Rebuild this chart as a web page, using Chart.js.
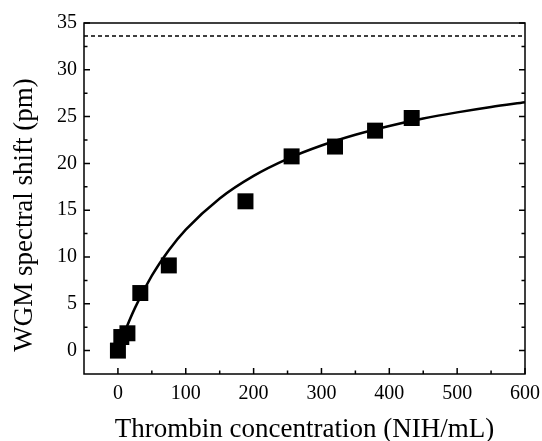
<!DOCTYPE html>
<html>
<head>
<meta charset="utf-8">
<script src="https://cdn.jsdelivr.net/npm/chart.js@4/dist/chart.umd.min.js"></script>
<style>
html, body { margin: 0; padding: 0; background: #fff; }
#wrap { width: 542px; height: 441px; }
</style>
</head>
<body>
<div id="wrap"><canvas id="chart"></canvas></div>
<script>
// punti misurati
const concentrazioni = [0, 5, 14, 33, 75, 188, 256, 320, 379, 433];
const spostamenti = [0, 1.45, 1.85, 6.15, 9.1, 15.95, 20.75, 21.8, 23.5, 24.85];

// curva di fit
const curvaX = [0, 10, 25, 50, 75, 100, 150, 200, 250, 300, 350, 400, 450, 500, 550, 600];
const curvaY = [0, 1.98, 4.54, 8.0, 10.72, 12.92, 16.26, 18.67, 20.49, 21.91, 23.06, 24.0, 24.79, 25.45, 26.03, 26.53];

// linea di saturazione tratteggiata
const saturazioneX = [-50, 600];
const saturazioneY = [33.6, 33.6];

const xTicks = [0, 100, 200, 300, 400, 500, 600];
const yTicks = [0, 5, 10, 15, 20, 25, 30, 35];
const xMinor = [-50, 50, 150, 250, 350, 450, 550];
const yMinor = [-2.5, 2.5, 7.5, 12.5, 17.5, 22.5, 27.5, 32.5];

const FONT = "'Liberation Serif', 'Times New Roman', serif";

const toPoints = (xs, ys) => xs.map((x, i) => ({ x: x, y: ys[i] }));

// cornice, tacche interne e titolo asse y
const cornice = {
  id: 'cornice',
  afterDraw(chart) {
    const c = chart.ctx;
    const a = chart.chartArea;
    const sx = chart.scales.x;
    const sy = chart.scales.y;
    c.save();
    c.strokeStyle = '#000';
    c.lineWidth = 1.5;
    c.strokeRect(a.left, a.top, a.right - a.left, a.bottom - a.top);
    c.beginPath();
    xTicks.forEach(v => {
      const px = sx.getPixelForValue(v);
      c.moveTo(px, a.bottom); c.lineTo(px, a.bottom - 6);
    });
    xMinor.forEach(v => {
      const px = sx.getPixelForValue(v);
      if (px <= a.left + 1) return;
      c.moveTo(px, a.bottom); c.lineTo(px, a.bottom - 3.5);
    });
    yTicks.forEach(v => {
      const py = sy.getPixelForValue(v);
      c.moveTo(a.left, py); c.lineTo(a.left + 6, py);
      c.moveTo(a.right, py); c.lineTo(a.right - 6, py);
    });
    yMinor.forEach(v => {
      const py = sy.getPixelForValue(v);
      if (py >= a.bottom - 1) return;
      c.moveTo(a.left, py); c.lineTo(a.left + 3.5, py);
      c.moveTo(a.right, py); c.lineTo(a.right - 3.5, py);
    });
    c.stroke();

    c.translate(25, 215);
    c.rotate(-Math.PI / 2);
    c.fillStyle = '#000';
    c.font = "27px " + FONT;
    c.textAlign = 'center';
    c.textBaseline = 'middle';
    c.fillText('WGM spectral shift (pm)', 0, 0);
    c.restore();
  }
};

const ctx = document.getElementById("chart").getContext("2d");

const chart = new Chart(ctx, {
  type: 'scatter',
  data: {
    datasets: [{
      label: "Saturazione",
      data: toPoints(saturazioneX, saturazioneY),
      showLine: true,
      borderColor: '#000',
      borderWidth: 1.5,
      borderDash: [4, 3],
      pointRadius: 0
    }, {
      label: "Fit",
      data: toPoints(curvaX, curvaY),
      showLine: true,
      borderColor: '#000',
      borderWidth: 2.5,
      cubicInterpolationMode: 'monotone',
      pointRadius: 0
    }, {
      label: "Misure",
      data: toPoints(concentrazioni, spostamenti),
      pointStyle: 'rect',
      pointRadius: 11.3,
      pointHoverRadius: 11.3,
      backgroundColor: '#000',
      borderColor: '#000',
      borderWidth: 0
    }]
  },
  options: {
    animation: false,
    responsive: true,
    maintainAspectRatio: false,
    layout: { padding: { top: 23, right: 17, left: 0, bottom: 0 } },
    plugins: {
      legend: { display: false },
      tooltip: { enabled: false }
    },
    scales: {
      x: {
        type: 'linear',
        min: -50,
        max: 600,
        afterBuildTicks: s => { s.ticks = xTicks.map(v => ({ value: v })); },
        afterFit: s => { s.height = 67; s.paddingLeft = 0; s.paddingRight = 0; },
        grid: { display: false, drawTicks: false },
        border: { display: false },
        ticks: {
          color: '#000',
          padding: 8,
          maxRotation: 0,
          font: { family: FONT, size: 20 }
        },
        title: {
          display: true,
          text: "Thrombin concentration (NIH/mL)",
          color: '#000',
          padding: { top: 6, bottom: -5 },
          font: { family: FONT, size: 27 }
        }
      },
      y: {
        type: 'linear',
        min: -2.5,
        max: 35,
        afterBuildTicks: s => { s.ticks = yTicks.map(v => ({ value: v })); },
        afterFit: s => { s.width = 84; s.paddingTop = 0; s.paddingBottom = 0; },
        grid: { display: false, drawTicks: false },
        border: { display: false },
        ticks: {
          color: '#000',
          padding: 7,
          font: { family: FONT, size: 20 }
        }
      }
    }
  },
  plugins: [cornice]
});
</script>
</body>
</html>
